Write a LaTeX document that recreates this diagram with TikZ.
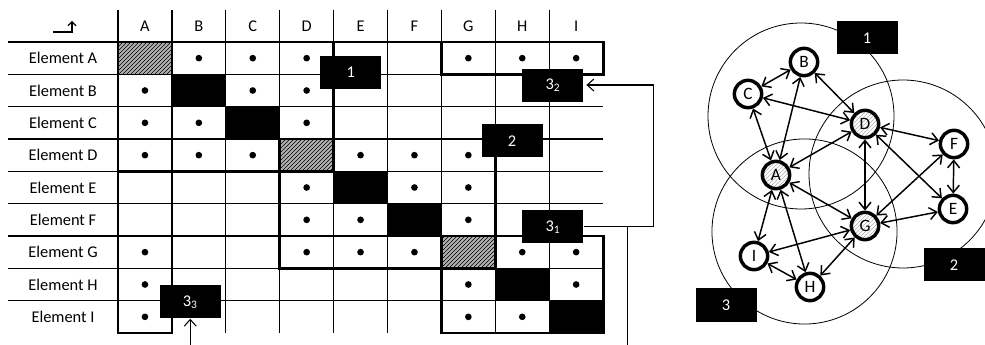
\documentclass[tikz,border=0pt]{standalone}
\usepackage{fontspec}
\setmainfont{Carlito}
\usetikzlibrary{arrows.meta,patterns}

\begin{document}
\begin{tikzpicture}[
    x=0.75pt, y=-0.75pt,
    font=\fontsize{12.3}{14}\selectfont,
    grid/.style={line width=0.9pt},
    blockline/.style={line width=2.1pt},
    tag/.style={fill=black, text=white, minimum width=45.75pt,
      minimum height=24.75pt, inner sep=0pt},
    dot/.style={circle, fill=black, inner sep=0pt, minimum size=5pt},
    conn/.style={line width=0.8pt},
    tip/.style={-{Straight Barb[length=5pt,width=9pt]}},
    elem/.style={circle, draw, line width=2.6pt, fill=white,
      minimum size=20.5pt, inner sep=0pt, font=\fontsize{13}{14}\selectfont},
    core/.style={elem, pattern=north east lines, pattern color=gray!60,
      preaction={fill=white}},
    link/.style={line width=1.1pt,
      {Straight Barb[length=5.5pt,width=9pt]}-{Straight Barb[length=5.5pt,width=9pt]}},
    zone/.style={line width=0.6pt},
  ]
  \useasboundingbox (0,0) rectangle (985,345);
  \fill[white] (0,0) rectangle (985,345);

  % the matrix, one unit per cell
  \begin{scope}[shift={(118,42)}, x=40.425pt, y=-24.25pt]
    % diagonal cells
    \foreach \k in {2,3,5,6,8,9}
      \fill[black] (\k-1,\k-1) rectangle (\k,\k);
    \foreach \k in {1,4,7}{
      \fill[gray!60] (\k-1,\k-1) rectangle (\k,\k);
      \fill[pattern=north east lines, pattern color=black]
        (\k-1,\k-1) rectangle (\k,\k);
    }

    % grid
    \foreach \r in {1,...,8}
      \draw[grid] (-2.04,\r) -- (9,\r);
    \foreach \c in {1,...,8}
      \draw[grid] (\c,-1) -- (\c,9);
    \draw[blockline] (-2.04,0) -- (9,0);
    \draw[blockline] (0,-1) -- (0,9);

    % headers
    \foreach \c/\name in {1/A,2/B,3/C,4/D,5/E,6/F,7/G,8/H,9/I}{
      \node (col\name) at (\c-0.5,-0.5) {\name};
      \node (row\name) at (-1.02,\c-0.5) {Element \name};
    }

    % dependencies
    \foreach \r/\cols in {1/{2,3,4,7,8,9}, 2/{1,3,4}, 3/{1,2,4},
                          4/{1,2,3,5,6,7}, 5/{4,6,7}, 6/{4,5,7},
                          7/{1,4,5,6,8,9}, 8/{1,7,9}, 9/{1,7,8}}
      \foreach \c in \cols
        \node[dot] at (\c-0.5,\r-0.5) {};

    % blocks
    \draw[blockline] (0,0) rectangle (4,4);
    \draw[blockline] (3,3) rectangle (7,7);
    \draw[blockline] (6,6) rectangle (9,9);
    \draw[blockline] (6,0) rectangle (9,1);
    \draw[blockline] (0,6) rectangle (1,9);

    \node[tag] (mOne)   at (4.32,0.93) {1};
    \node[tag] (mTwo)   at (7.31,3.06) {2};
    \node[tag] (mThrA)  at (8.07,5.72) {3\textsubscript{1}};
    \node[tag] (mThrB)  at (8.07,1.33) {3\textsubscript{2}};
    \node[tag] (mThrC)  at (1.34,8.04) {3\textsubscript{3}};

    \coordinate (bend) at (9.94,0);
    \coordinate (drop) at (9.46,9.37);
    \coordinate (feed) at (1.34,9.37);
  \end{scope}

  % header arrow
  \draw[conn, -{Straight Barb[length=3pt,width=6pt]}] (53,32) -- (72,32) -- (72,21);

  % connectors
  \draw[conn, tip, shorten >=2pt] (mThrA.east) -| (bend |- mThrB.east) -- (mThrB.east);
  \draw[conn] (drop) -- (drop |- mThrA.east);
  \draw[conn, tip] (feed) -- (mThrC.south);

  % the graph
  \draw[zone] (801,116) circle[radius=69.75pt];
  \draw[zone] (903,174) circle[radius=70.5pt];
  \draw[zone] (804.5,231.5) circle[radius=69.4pt];

  \node[tag] (gOne) at (867,38) {1};
  \node[tag] (gTwo) at (954,265) {2};
  \node[tag] (gThr) at (726,305) {3};

  \node[core] (A) at (776,175) {A};
  \node[elem] (B) at (804,62)  {B};
  \node[elem] (C) at (748,94)  {C};
  \node[core] (D) at (865,124) {D};
  \node[elem] (E) at (953,209) {E};
  \node[elem] (F) at (954,144) {F};
  \node[core] (G) at (865,226) {G};
  \node[elem] (H) at (810,287) {H};
  \node[elem] (I) at (754,256) {I};

  \foreach \u/\v in {C/B, B/A, B/D, C/D, C/A, D/A, D/F, D/G, D/E,
                     G/F, F/E, G/E, A/G, A/I, A/H, I/G, I/H, H/G}
    \draw[link] (\u) -- (\v);
\end{tikzpicture}
\end{document}
